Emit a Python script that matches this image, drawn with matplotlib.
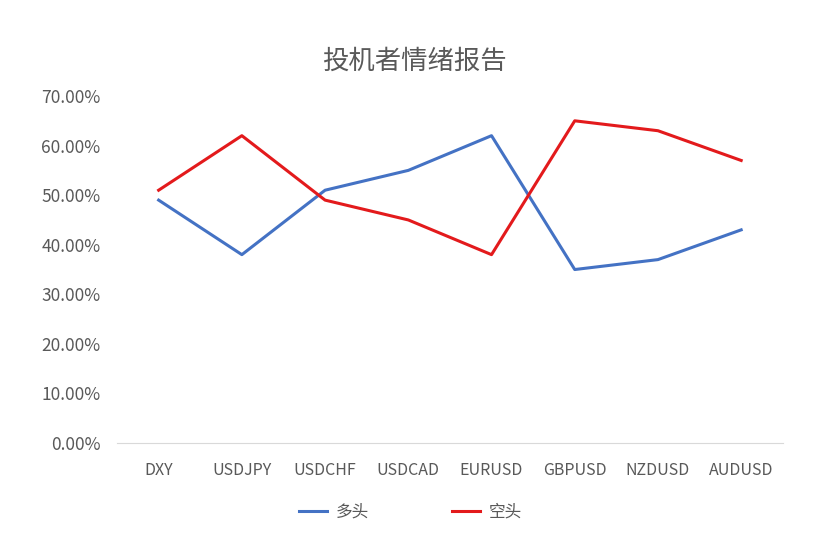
import matplotlib.pyplot as plt
from matplotlib.ticker import FuncFormatter

plt.rcParams['font.family'] = ['Noto Sans CJK SC', 'DejaVu Sans']

pairs = ['DXY', 'USDJPY', 'USDCHF', 'USDCAD', 'EURUSD', 'GBPUSD', 'NZDUSD', 'AUDUSD']
long_pct = [0.49, 0.38, 0.51, 0.55, 0.62, 0.35, 0.37, 0.43]
short_pct = [0.51, 0.62, 0.49, 0.45, 0.38, 0.65, 0.63, 0.57]

text_color = '#595959'

fig = plt.figure(figsize=(8.39, 5.56), dpi=100)
ax = fig.add_axes([0.1395, 0.2032, 0.7935, 0.6241])

x = range(len(pairs))
ax.plot(x, long_pct, color='#4472C4', linewidth=2.2, label='多头')
ax.plot(x, short_pct, color='#E31A1C', linewidth=2.2, label='空头')

ax.set_xlim(-0.5, len(pairs) - 0.5)
ax.set_ylim(0, 0.7)
ax.set_yticks([i / 10 for i in range(8)])
ax.yaxis.set_major_formatter(FuncFormatter(lambda v, _: f'{v * 100:.2f}%'))
ax.set_xticks(list(x))
ax.set_xticklabels(pairs)

for side in ['top', 'right', 'left']:
    ax.spines[side].set_visible(False)
ax.spines['bottom'].set_color('#D9D9D9')
ax.tick_params(axis='both', length=0, colors=text_color)
ax.tick_params(axis='x', pad=14, labelsize=11.5)
ax.tick_params(axis='y', pad=12, labelsize=12.5)

fig.suptitle('投机者情绪报告', x=0.494, y=0.915, fontsize=19, color=text_color)

fig.legend(loc='center', bbox_to_anchor=(0.489, 0.079), ncol=2, frameon=False,
           fontsize=12, labelcolor=text_color, columnspacing=5.0,
           handlelength=1.7, handletextpad=0.5)

fig.savefig('out.png', dpi=100)
